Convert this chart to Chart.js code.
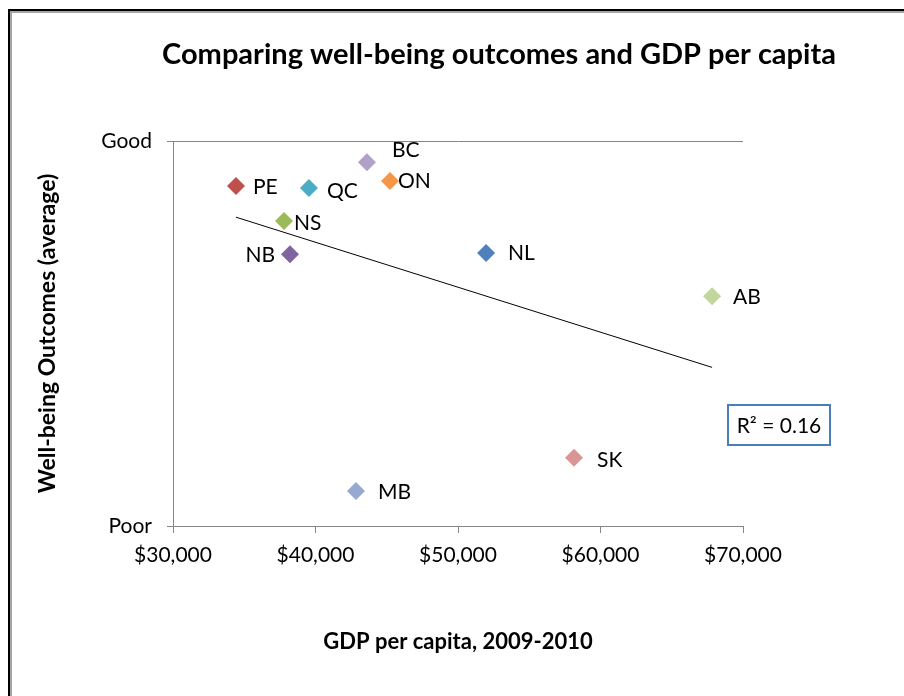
<!DOCTYPE html>
<html lang="en">
<head>
    <meta charset="UTF-8">
    <title>Well-being vs GDP per capita</title>
    <script src="https://cdn.jsdelivr.net/npm/chart.js"></script>
    <style>
        body { margin: 0; background: #fff; }
        canvas { display: block; }
    </style>
</head>
<body>
    <canvas id="wellbeing-chart" width="904" height="696"></canvas>

    <script>
        // Provinces, GDP per capita (2009-2010) and average well-being score (0 = Poor, 10 = Good)
        const provinces = ['NL', 'PE', 'NS', 'NB', 'QC', 'ON', 'MB', 'SK', 'AB', 'BC'];
        const gdpPerCapita = [51970, 34420, 37790, 38210, 39540, 45230, 42840, 58140, 67830, 43610];
        const wellBeing = [7.09, 8.83, 7.92, 7.06, 8.78, 8.96, 0.91, 1.77, 5.97, 9.45];

        const xTickValues = [30000, 40000, 50000, 60000, 70000];
        const xTickLabels = ['$30,000', '$40,000', '$50,000', '$60,000', '$70,000'];
        const yTickValues = [0, 10];
        const yTickLabels = ['Poor', 'Good'];

        const pointColors = ['#4F81BD', '#C0504D', '#9BBB59', '#8064A2', '#4BACC6',
                             '#F79646', '#95A9D3', '#D99694', '#C3D69B', '#B2A1C7'];

        // where each province label sits relative to its marker
        const labelOffsets = {
            NL: [22, 0], PE: [17, 1], NS: [10, 2], NB: [-15, 1], QC: [18, 3],
            ON: [8, 0], MB: [22, 1], SK: [23, 2], AB: [21, 1], BC: [25, -12]
        };

        const FONT = 'Lato, "Open Sans", sans-serif';
        const AXIS_GRAY = '#868686';

        // ordinary least squares fit, same as a spreadsheet linear trendline
        function linearFit(xs, ys) {
            const n = xs.length;
            const mx = xs.reduce((a, b) => a + b, 0) / n;
            const my = ys.reduce((a, b) => a + b, 0) / n;
            let sxy = 0, sxx = 0, syy = 0;
            for (let i = 0; i < n; i++) {
                sxy += (xs[i] - mx) * (ys[i] - my);
                sxx += (xs[i] - mx) ** 2;
                syy += (ys[i] - my) ** 2;
            }
            const slope = sxy / sxx;
            return { slope, intercept: my - slope * mx, r2: (sxy * sxy) / (sxx * syy) };
        }

        const fit = linearFit(gdpPerCapita, wellBeing);
        const xMin = Math.min(...gdpPerCapita);
        const xMax = Math.max(...gdpPerCapita);
        const trendPoints = [xMin, xMax].map(x => ({ x, y: fit.intercept + fit.slope * x }));

        const framePlugin = {
            id: 'frame',
            beforeDraw(chart) {
                const ctx = chart.ctx;
                ctx.save();
                ctx.fillStyle = '#fff';
                ctx.fillRect(0, 0, chart.width, chart.height);
                ctx.fillStyle = '#000';
                ctx.fillRect(8, 9, 2, chart.height);
                ctx.fillRect(8, 9, chart.width, 2);
                ctx.fillStyle = '#a6a6a6';
                ctx.fillRect(10, 11, 2, chart.height);
                ctx.fillRect(10, 11, chart.width, 2);
                ctx.restore();
            }
        };

        const annotationsPlugin = {
            id: 'annotations',
            afterDatasetsDraw(chart) {
                const ctx = chart.ctx;
                const area = chart.chartArea;
                ctx.save();

                // main heading
                ctx.fillStyle = '#000';
                ctx.font = 'bold 29px ' + FONT;
                ctx.textAlign = 'center';
                ctx.textBaseline = 'middle';
                ctx.fillText('Comparing well-being outcomes and GDP per capita', 499, 55);

                // province labels next to each marker
                ctx.font = '21px ' + FONT;
                const meta = chart.getDatasetMeta(0);
                meta.data.forEach((pt, i) => {
                    const [dx, dy] = labelOffsets[provinces[i]];
                    ctx.textAlign = dx < 0 ? 'right' : 'left';
                    ctx.fillText(provinces[i], pt.x + dx, pt.y + dy);
                });

                // R² box for the trendline
                const bx = area.right - 15, by = 405, bw = 102, bh = 40;
                ctx.strokeStyle = '#4A7EBB';
                ctx.lineWidth = 2;
                ctx.strokeRect(bx, by, bw, bh);
                ctx.fillStyle = '#000';
                ctx.textAlign = 'center';
                ctx.fillText('R\u00B2 = ' + fit.r2.toFixed(2), bx + bw / 2, by + bh / 2 + 1);
                ctx.restore();
            }
        };

        function buildChart() {
            const ctx = document.getElementById('wellbeing-chart').getContext('2d');
            new Chart(ctx, {
                type: 'scatter',
                data: {
                    datasets: [{
                        label: 'Provinces',
                        data: gdpPerCapita.map((x, i) => ({ x, y: wellBeing[i] })),
                        backgroundColor: pointColors,
                        borderColor: pointColors,
                        borderWidth: 0,
                        pointStyle: 'rectRot',
                        pointRadius: 9,
                        order: 1
                    }, {
                        label: 'Trend',
                        data: trendPoints,
                        showLine: true,
                        borderColor: '#000',
                        borderWidth: 1,
                        pointRadius: 0,
                        order: 2
                    }]
                },
                options: {
                    responsive: false,
                    animation: false,
                    devicePixelRatio: 1,
                    layout: { padding: { left: 0, top: 141, right: 161, bottom: 0 } },
                    plugins: {
                        legend: { display: false },
                        tooltip: { enabled: false },
                        title: { display: false }
                    },
                    scales: {
                        x: {
                            type: 'linear',
                            min: xTickValues[0],
                            max: xTickValues[xTickValues.length - 1],
                            afterFit(scale) { scale.height = 170; },
                            afterBuildTicks(scale) { scale.ticks = xTickValues.map(v => ({ value: v })); },
                            border: { color: AXIS_GRAY, width: 1 },
                            grid: { drawOnChartArea: false, tickLength: 7, tickColor: AXIS_GRAY, color: AXIS_GRAY },
                            ticks: {
                                padding: 10,
                                color: '#000',
                                font: { family: FONT, size: 21 },
                                callback: (v) => xTickLabels[xTickValues.indexOf(v)]
                            },
                            title: {
                                display: true,
                                text: 'GDP per capita, 2009-2010',
                                color: '#000',
                                font: { family: FONT, size: 22, weight: 'bold' },
                                padding: { top: 0, bottom: 41 }
                            }
                        },
                        y: {
                            type: 'linear',
                            min: yTickValues[0],
                            max: yTickValues[yTickValues.length - 1],
                            afterFit(scale) { scale.width = 173; },
                            afterBuildTicks(scale) { scale.ticks = yTickValues.map(v => ({ value: v })); },
                            border: { color: AXIS_GRAY, width: 1 },
                            grid: {
                                tickLength: 6,
                                tickColor: AXIS_GRAY,
                                color: (c) => (c.tick && c.tick.value === 10 ? AXIS_GRAY : 'rgba(0,0,0,0)')
                            },
                            ticks: {
                                padding: 15,
                                color: '#000',
                                font: { family: FONT, size: 21 },
                                callback: (v) => yTickLabels[yTickValues.indexOf(v)]
                            },
                            title: {
                                display: true,
                                text: 'Well-being Outcomes (average)',
                                color: '#000',
                                font: { family: FONT, size: 23, weight: 'bold' },
                                padding: { top: 34, bottom: 0 }
                            }
                        }
                    }
                },
                plugins: [framePlugin, annotationsPlugin]
            });
        }

        Promise.all([
            document.fonts.load('20px Lato'),
            document.fonts.load('bold 20px Lato')
        ]).then(buildChart, buildChart);
    </script>
</body>
</html>
